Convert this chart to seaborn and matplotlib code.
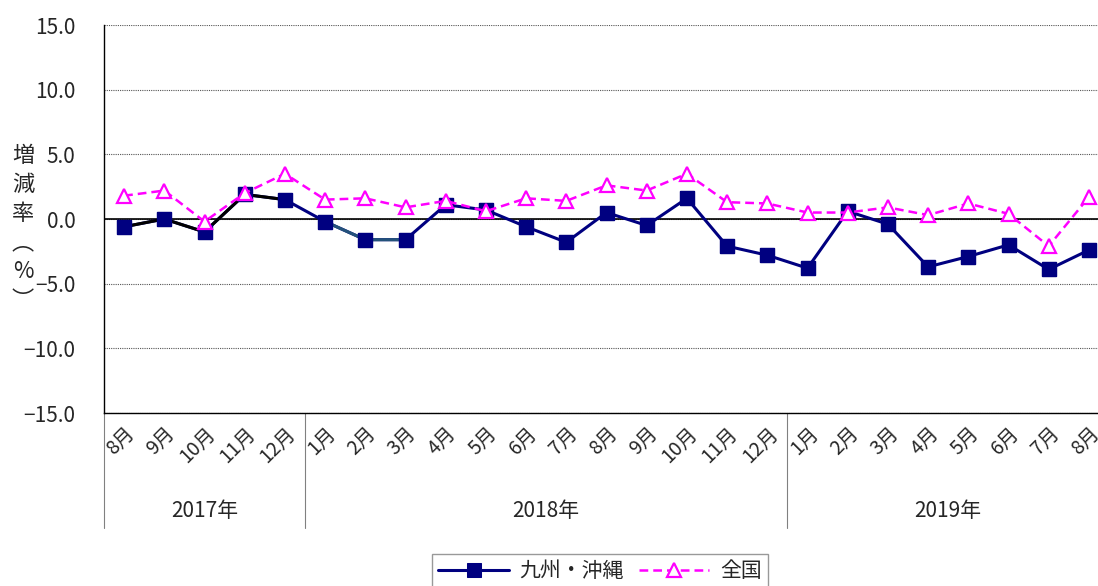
import numpy as np
import pandas as pd
import seaborn as sns
import matplotlib.pyplot as plt
import matplotlib.transforms as mtransforms

# data
months = ["8月", "9月", "10月", "11月", "12月",
          "1月", "2月", "3月", "4月", "5月", "6月", "7月", "8月", "9月", "10月", "11月", "12月",
          "1月", "2月", "3月", "4月", "5月", "6月", "7月", "8月"]
years = ["2017年", "2018年", "2019年"]
year_counts = [5, 12, 8]
kyushu = [-0.6, 0.0, -1.0, 1.9, 1.5,
          -0.2, -1.6, -1.6, 1.1, 0.7, -0.6, -1.8, 0.5, -0.5, 1.6, -2.1, -2.8,
          -3.8, 0.6, -0.4, -3.7, -2.9, -2.0, -3.9, -2.4]
zenkoku = [1.8, 2.2, -0.2, 2.0, 3.5,
           1.5, 1.6, 0.9, 1.4, 0.6, 1.6, 1.4, 2.6, 2.2, 3.5, 1.3, 1.2,
           0.5, 0.5, 0.9, 0.3, 1.2, 0.4, -2.1, 1.7]
y_ticks = [-15, -10, -5, 0, 5, 10, 15]

sns.set_style("white")
plt.rcParams['font.family'] = ['Noto Sans CJK JP', 'DejaVu Sans']

df = pd.DataFrame({"idx": np.arange(len(months)), "kyushu": kyushu, "zenkoku": zenkoku})

fig = plt.figure(figsize=(10.98, 5.86), dpi=100)
ax = fig.add_axes([104 / 1098, 1 - 413 / 586, 1005 / 1098, 388 / 586])

navy = "#000080"
magenta = "#FF00FF"

# 九州・沖縄
sns.lineplot(data=df, x="idx", y="kyushu", ax=ax, color=navy, lw=2.2,
             marker="s", markersize=10, markeredgecolor=navy, label="九州・沖縄", zorder=3)
# some segments are drawn in other colours in the original
ax.plot(df["idx"][:5], df["kyushu"][:5], color="black", lw=2.2, zorder=3.5)
ax.plot(df["idx"][5:8], df["kyushu"][5:8], color="#24527a", lw=2.2, zorder=3.5)
ax.plot(df["idx"], df["kyushu"], ls="none", marker="s", markersize=10,
        color=navy, markeredgecolor=navy, zorder=4)

# 全国
sns.lineplot(data=df, x="idx", y="zenkoku", ax=ax, color=magenta, lw=1.8,
             linestyle=(0, (3.5, 2)), marker="^", markersize=10,
             markerfacecolor="white", markeredgecolor=magenta, markeredgewidth=1.6,
             label="全国", zorder=5)

ax.set_xlim(-0.5, len(months) - 0.5)
ax.set_ylim(-15, 15)
ax.set_yticks(y_ticks, [f"{v:.1f}".replace("-", "−") for v in y_ticks], fontsize=15)
ax.set_xticks(df["idx"], months, rotation=45, ha="right", rotation_mode="anchor", fontsize=14)
ax.tick_params(axis="y", direction="out", length=3.6, width=1, color="black", pad=17)
ax.tick_params(axis="x", length=0, pad=7)
ax.set_xlabel("")
ax.set_ylabel("")

ax.yaxis.grid(True, linestyle=(0, (1, 1)), color="#555555", lw=0.8)
ax.axhline(0, color="black", lw=1.2, zorder=2)
for s in ["top", "right"]:
    ax.spines[s].set_visible(False)
for s in ["left", "bottom"]:
    ax.spines[s].set_color("black")
    ax.spines[s].set_linewidth(1.0)

# year groups below the axis
trans = mtransforms.blended_transform_factory(ax.transData, ax.transAxes)
start = -0.5
for yr, n in zip(years, year_counts):
    ax.plot([start, start], [0, -0.296], transform=trans, color="#808080", lw=0.8, clip_on=False)
    ax.text(start + n / 2, -0.253, yr, transform=trans, ha="center", va="center", fontsize=15)
    start += n

fig.text(23 / 1098, 1 - 228 / 586, "増\n減\n率\n︵\n%\n︶", ha="center", va="center",
         fontsize=16, linespacing=1.33)

ax.get_legend().remove()
h, l = ax.get_legend_handles_labels()
fig.legend(h, l, loc="upper center", bbox_to_anchor=(600 / 1098, 1 - 554 / 586), ncol=2,
           frameon=True, fancybox=False, edgecolor="#808080", fontsize=15,
           handlelength=3.4, columnspacing=0.7, handletextpad=0.5, borderaxespad=0,
           borderpad=0.3)

fig.savefig("out.png", dpi=100)
plt.close(fig)
